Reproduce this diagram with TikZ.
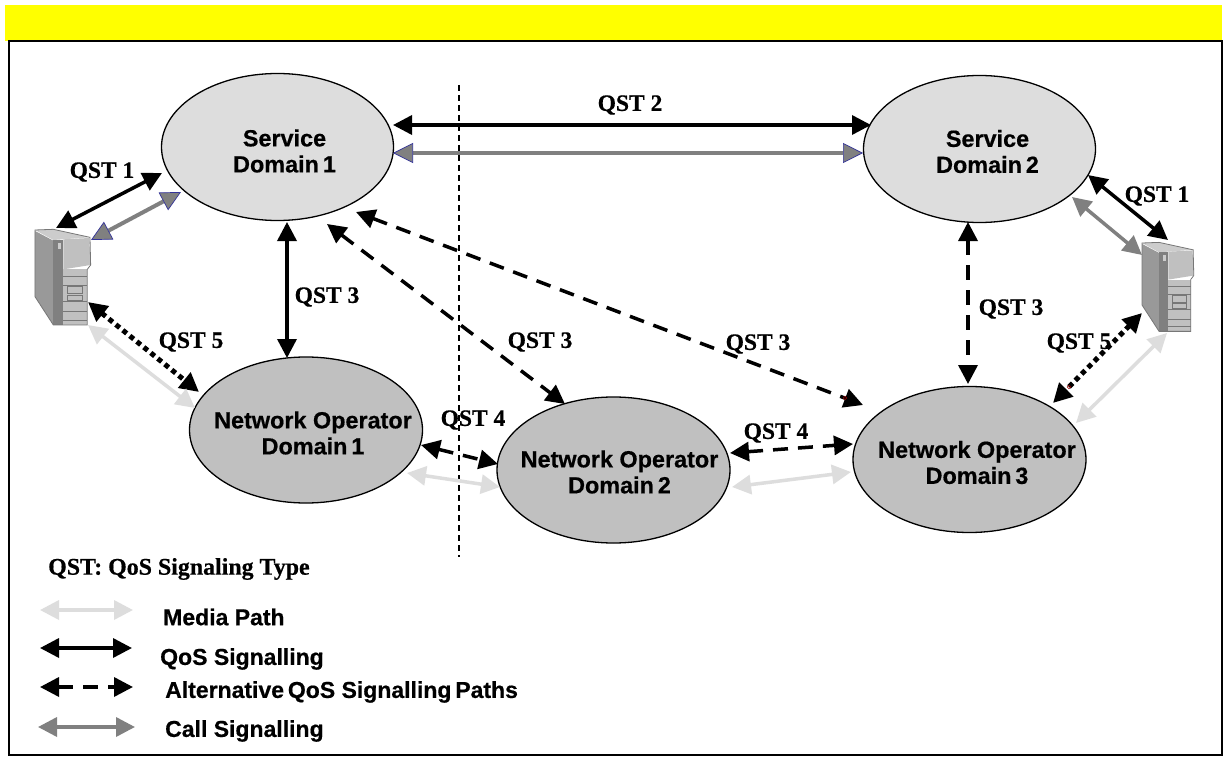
\documentclass[tikz,border=0pt]{standalone}
\usepackage{fontspec}
\setmainfont{Liberation Serif}[BoldFeatures={FakeBold=0.5}]
\setsansfont{Liberation Sans}[BoldFeatures={FakeBold=0.5}]
\usetikzlibrary{arrows.meta,shapes.geometric}
\definecolor{banner}{HTML}{FFFF00}
\definecolor{sdfill}{HTML}{DDDDDD}
\definecolor{ndfill}{HTML}{C0C0C0}
\definecolor{callc}{HTML}{808080}
\definecolor{mediac}{HTML}{DDDDDD}
\definecolor{edgeb}{HTML}{333399}
\definecolor{srvside}{HTML}{999999}
\definecolor{srvtop}{HTML}{CCCCCC}
\definecolor{srvline}{HTML}{777777}
\definecolor{speck}{HTML}{990000}
\tikzset{
  domnode/.style={ellipse,draw=black,line width=1.3pt,inner sep=0pt},
  domtext/.style={align=center,inner sep=0pt,font=\sffamily\bfseries\fontsize{23.4}{26}\selectfont},
  svcdom/.style={domnode,fill=sdfill,minimum width=232pt,minimum height=147pt},
  netdom/.style={domnode,fill=ndfill,minimum width=233pt,minimum height=146pt},
  link/.style={line width=3.5pt,{Triangle[length=19pt,width=19pt]}-{Triangle[length=19pt,width=19pt]}},
  qos/.style={link,draw=black},
  altqos/.style={qos,dash pattern=on 15pt off 10pt},
  dotq/.style={link,draw=black,line width=5pt,dash pattern=on 5pt off 4pt},
  callp/.style={link,draw=callc},
  callb/.style={draw=callc,line width=4pt,
    {Triangle[length=20pt,width=20pt,color=edgeb,fill=callc,line width=.7pt]}-{Triangle[length=20pt,width=20pt,color=edgeb,fill=callc,line width=.7pt]}},
  media/.style={link,draw=mediac},
  qst/.style={font=\rmfamily\bfseries\fontsize{23.5}{26}\selectfont,inner sep=0pt},
  legtxt/.style={font=\sffamily\bfseries\fontsize{23}{26}\selectfont,inner sep=0pt,anchor=west},
}
\newcommand{\serverpic}{%
  \fill[srvside] (105,243)--(160,272)--(160,525)--(105,440)--cycle;
  \fill[srvtop] (105,240)--(160,238)--(270,262)--(160,270)--cycle;
  \fill[callc] (160,270)--(190,270)--(190,525)--(160,525)--cycle;
  \fill[ndfill] (190,268)--(268,264)--(272,345)--(190,358)--cycle;
  \fill[ndfill] (190,358)--(262,358)--(262,525)--(190,525)--cycle;
  \draw[srvline,line width=.8pt] (105,240)--(160,238)--(270,262)--(272,345)--(262,358)--(262,525)--(160,525)--(105,440)--cycle;
  \draw[srvline,line width=.8pt] (190,380)--(262,380) (190,405)--(262,405) (190,455)--(262,455) (190,485)--(262,485) (190,510)--(262,510)
    (203,410) rectangle (248,430) (203,435) rectangle (248,452);
  \fill[srvtop] (174,278) rectangle (182,298);
}
\begin{document}
\begin{tikzpicture}[x=1pt,y=-1pt]
\useasboundingbox (0,0) rectangle (1224,757);
\fill[white] (0,0) rectangle (1224,757);
\fill[banner] (5,5) rectangle (1222,41);
\draw[line width=2pt] (9,41) rectangle (1222,755);

\draw[line width=1.5pt,dash pattern=on 6pt off 4pt] (459,85) -- (459,557);

\node[svcdom,label={[domtext,xshift=7pt,yshift=-4pt]center:Service\\Domain\,1}] (sd1) at (277.5,147) {};
\node[svcdom,label={[domtext,xshift=8pt,yshift=-2.5pt]center:Service\\Domain\,2}] (sd2) at (979.5,149) {};
\node[netdom,label={[domtext,xshift=7pt,yshift=-3pt]center:Network Operator\\Domain\,1}] (nd1) at (306,430) {};
\node[netdom,label={[domtext,xshift=6pt,yshift=-2pt]center:Network Operator\\Domain\,2}] (nd2) at (613.5,470) {};
\node[netdom,label={[domtext,xshift=7.5pt,yshift=-3pt]center:Network Operator\\Domain\,3}] (nd3) at (969.5,459.5) {};

\begin{scope}[shift={(0,150)},x=0.3333pt,y=-0.3333pt]\serverpic\end{scope}
\begin{scope}[shift={(1109.45,168.6)},x=0.31pt,y=-0.31pt]\serverpic\end{scope}

% connector ports
\foreach \n/\x/\y in {a1/393/125,a2/871/125,b1/393/153,b2/863/153,
  c1/56/228,c2/162/173,d1/91/240,d2/181/192,
  e1/287/222,e2/287/358,f1/327/224,f2/565/404,g1/356/212,g2/863/405,
  h1/968/222,h2/968/384,
  i1/1088/175,i2/1168/240,j1/1072/197,j2/1142/255,
  k1/1142/313,k2/1053/403,l1/1167/333,l2/1076/423,
  m1/88/302,m2/199/392,n1/88/325,n2/195/408,
  o1/421/445,o2/498/464,p1/407/473,p2/500/487,
  q1/730/453,q2/853/444,r1/732/487,r2/851/472,
  s1/40/610,s2/133/610,t1/40/648,t2/132/648,u1/40/687,u2/133/687,v1/38/727,v2/135/727}
  {\coordinate (\n) at (\x,\y);}

\draw[qos] (a1) -- (a2);
\draw[callb] (b1) -- (b2);
\draw[qos] (c1) -- (c2);
\draw[callb] (d1) -- (d2);
\draw[qos] (e1) -- (e2);
\draw[altqos] (f1) -- (f2);
\draw[altqos] (g1) -- (g2);
\draw[altqos] (h1) -- (h2);
\draw[qos] (i1) -- (i2);
\draw[callp] (j1) -- (j2);
\draw[dotq] (k1) -- (k2);
\draw[media] (l1) -- (l2);
\draw[dotq] (m1) -- (m2);
\draw[media] (n1) -- (n2);
\draw[altqos] (o1) -- (o2);
\draw[media] (p1) -- (p2);
\draw[altqos] (q1) -- (q2);
\draw[media] (r1) -- (r2);
\draw[media] (s1) -- (s2);
\draw[qos] (t1) -- (t2);
\draw[altqos] (u1) -- (u2);
\draw[callp] (v1) -- (v2);

\draw[speck,line width=.6pt] (845,398) circle[radius=1.8pt] (1069,387) circle[radius=1.8pt];

\node[qst] (l01) at (630,105) {QST 2};
\node[qst] (l02) at (102,172) {QST 1};
\node[qst] (l03) at (1157,196) {QST 1};
\node[qst] (l04) at (327,297) {QST 3};
\node[qst] (l05) at (1011,309) {QST 3};
\node[qst] (l06) at (191,342) {QST 5};
\node[qst] (l07) at (540,342) {QST 3};
\node[qst] (l08) at (758,344) {QST 3};
\node[qst] (l09) at (1079,343) {QST 5};
\node[qst] (l10) at (473,420) {QST 4};
\node[qst] (l11) at (776,433) {QST 4};
\node[qst,anchor=west,font=\rmfamily\bfseries\fontsize{23.9}{26}\selectfont] (l12) at (48,569) {QST: QoS Signaling Type};

\node[legtxt] (t1l) at (163,617) {Media Path};
\node[legtxt] (t2l) at (160,659) {QoS Signalling};
\node[legtxt] (t3l) at (165,692) {Alternative\,QoS Signalling\,Paths};
\node[legtxt] (t4l) at (165,731) {Call Signalling};
\end{tikzpicture}
\end{document}
